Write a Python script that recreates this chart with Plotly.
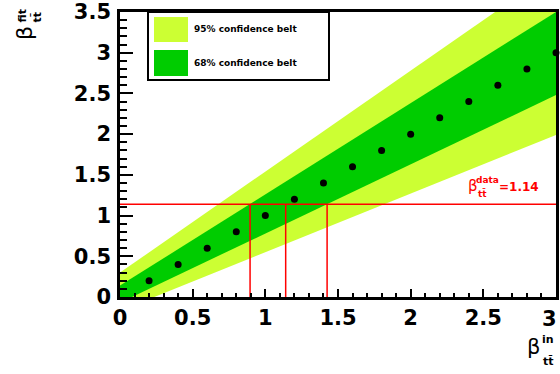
import plotly.graph_objects as go

# Fitted vs. generated beta scan points
beta_in = [0.2, 0.4, 0.6, 0.8, 1.0, 1.2, 1.4, 1.6, 1.8, 2.0, 2.2, 2.4, 2.6, 2.8, 3.0]
beta_fit = [0.2, 0.4, 0.6, 0.8, 1.0, 1.2, 1.4, 1.6, 1.8, 2.0, 2.2, 2.4, 2.6, 2.8, 3.0]

# Confidence belt edges, sampled along beta_in
belt_x = [0.0, 0.5, 1.0, 1.5, 2.0, 2.5, 3.0]
belt95_hi = [0.30, 0.92, 1.54, 2.16, 2.78, 3.40, 4.02]
belt68_hi = [0.14, 0.70, 1.26, 1.82, 2.38, 2.94, 3.50]
belt68_lo = [-0.07, 0.355, 0.78, 1.205, 1.63, 2.055, 2.48]
belt95_lo = [-0.17, 0.19, 0.55, 0.91, 1.27, 1.63, 1.99]

# Measured value and the 68% interval it maps to
beta_data = 1.14
interval_68 = [0.895, 1.425]

LIGHT = "#CCFF33"
DARK = "#00CC00"
RED = "#FF0000"
FONT = "DejaVu Sans"
TICKFONT = dict(family=FONT, size=21, color="black", weight="bold")

W, H = 560, 374
L, R, T, B = 120, 4, 12, 77


def px(x):
    return (x - L) / (W - L - R)


def py(y):
    return (H - B - y) / (H - B - T)


def band(hi, lo, color):
    return go.Scatter(
        x=belt_x + belt_x[::-1],
        y=hi + lo[::-1],
        fill="toself",
        fillcolor=color,
        line=dict(width=0),
        mode="lines",
        hoverinfo="skip",
        showlegend=False,
    )


fig = go.Figure()
fig.add_trace(band(belt95_hi, belt95_lo, LIGHT))
fig.add_trace(band(belt68_hi, belt68_lo, DARK))

# Horizontal line at the measured value and the vertical projections
fig.add_trace(go.Scatter(x=[0, 3], y=[beta_data, beta_data], mode="lines",
                         line=dict(color=RED, width=1.5), showlegend=False))
for xv in [interval_68[0], beta_data, interval_68[1]]:
    fig.add_trace(go.Scatter(x=[xv, xv], y=[0, beta_data], mode="lines",
                             line=dict(color=RED, width=1.5), showlegend=False))

fig.add_trace(go.Scatter(x=beta_in, y=beta_fit, mode="markers",
                         marker=dict(color="black", size=7),
                         cliponaxis=False, showlegend=False))

axis_common = dict(
    showline=True, linecolor="black", linewidth=2.5, mirror=True,
    showgrid=False, zeroline=False, automargin=False,
    ticks="inside", tickcolor="black", tickwidth=2,
    tickfont=TICKFONT,
)

fig.update_xaxes(range=[0, 3], dtick=0.5, ticklen=8, ticklabelstandoff=0,
                 minor=dict(dtick=0.1, ticklen=4, ticks="inside",
                            tickcolor="black", tickwidth=2),
                 **axis_common)
fig.update_yaxes(range=[0, 3.5], dtick=0.5, ticklen=13, ticklabelstandoff=2,
                 minor=dict(dtick=0.1, ticklen=7, ticks="inside",
                            tickcolor="black", tickwidth=2),
                 **axis_common)

shapes = []
annotations = []

# last x tick label sits at the page edge; draw it explicitly, kept inside the page
annotations.append(dict(xref="paper", yref="paper", x=px(559), y=py(305),
                        xanchor="right", yanchor="top", showarrow=False,
                        text="3", font=TICKFONT))

# Legend box with swatches
shapes.append(dict(type="rect", xref="paper", yref="paper",
                   x0=px(148), x1=px(329), y0=py(80), y1=py(12),
                   line=dict(color="black", width=2), fillcolor="white", layer="above"))
for (y0, y1, col, label) in [(17, 42, LIGHT, "95% confidence belt"),
                             (50, 76, DARK, "68% confidence belt")]:
    shapes.append(dict(type="rect", xref="paper", yref="paper",
                       x0=px(154), x1=px(188), y0=py(y1), y1=py(y0),
                       line=dict(width=0), fillcolor=col, layer="above"))
    annotations.append(dict(xref="paper", yref="paper", x=px(192), y=py((y0 + y1) / 2),
                            xanchor="left", yanchor="middle", showarrow=False,
                            text=label,
                            font=dict(family=FONT, size=9, color="black", weight="bold")))


def label(x, y, text, size, color="black", bold=True, angle=0):
    annotations.append(dict(xref="paper", yref="paper", x=px(x), y=py(y),
                            xanchor="center", yanchor="middle", showarrow=False,
                            text=text, textangle=angle,
                            font=dict(family=FONT, size=size, color=color,
                                      weight="bold" if bold else "normal")))


# y-axis title: beta^fit_tt
label(24, 33, "β", 22, bold=False, angle=-90)
label(22, 16.5, "fit", 11, angle=-90)
label(37, 17.5, "tt\u0304", 11, angle=-90)

# x-axis title: beta^in_tt
label(533, 347, "β", 21, bold=False)
label(547.5, 339, "in", 11)
label(548.5, 361, "tt\u0304", 11)

# measured value label
label(472.5, 186, "β", 15, color=RED, bold=False)
label(487, 179.5, "data", 9, color=RED)
label(482.5, 193, "tt\u0304", 9, color=RED)
annotations.append(dict(xref="paper", yref="paper", x=px(497), y=py(186.5),
                        xanchor="left", yanchor="middle", showarrow=False,
                        text="=1.14",
                        font=dict(family=FONT, size=12, color=RED, weight="bold")))

fig.update_layout(
    width=W, height=H,
    margin=dict(l=L, r=R, t=T, b=B, autoexpand=False),
    paper_bgcolor="white", plot_bgcolor="white",
    shapes=shapes, annotations=annotations,
    showlegend=False,
)

fig.write_html("out.html")
